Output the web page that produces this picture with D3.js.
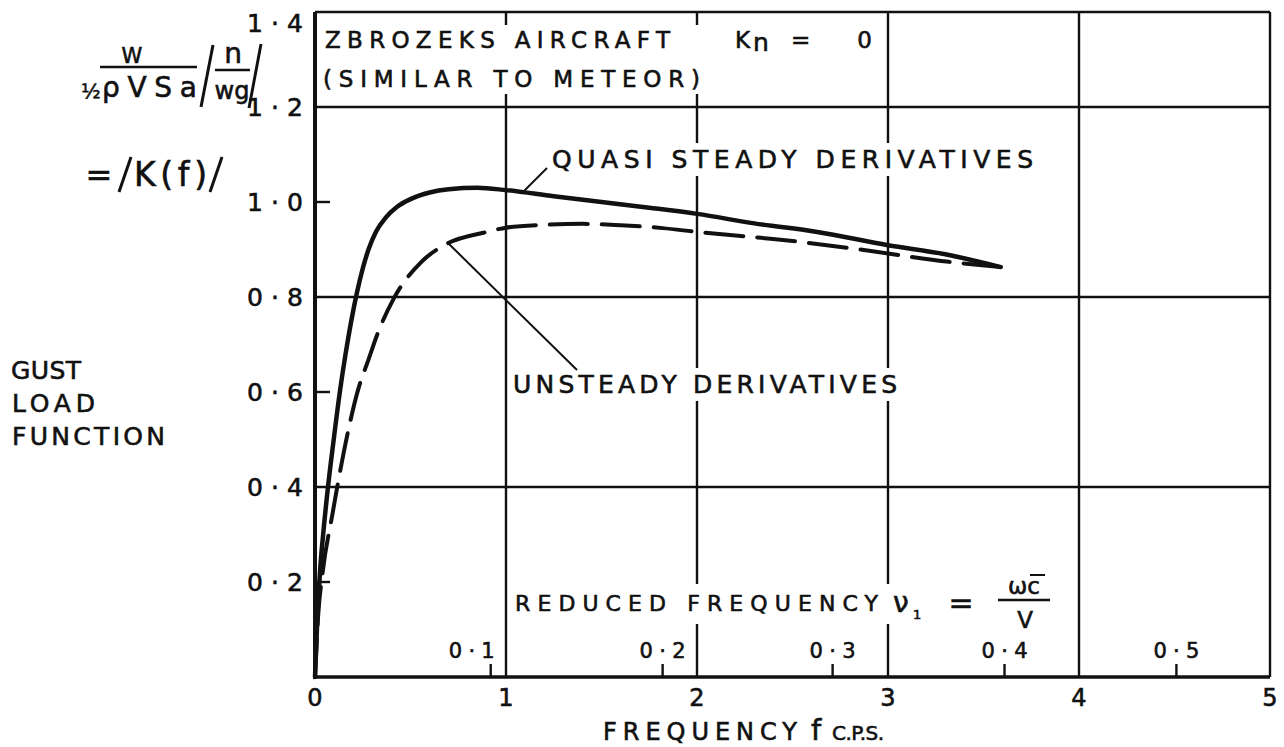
<!DOCTYPE html>
<html>
<head>
<meta charset="utf-8">
<script src="https://cdn.jsdelivr.net/npm/d3@7"></script>
<style>
  html, body { margin: 0; background: #fff; }
  svg text { font-family: "DejaVu Sans", sans-serif; fill: #111; stroke: #111; stroke-width: 0.6px; }
</style>
</head>
<body>
<svg id="chart"></svg>
<script>
// frequency f (c.p.s.) vs |K(f)|
const quasiFreq = [0, 0.01, 0.026, 0.045, 0.068, 0.098, 0.13, 0.16, 0.19, 0.22, 0.25, 0.28, 0.32, 0.37, 0.43, 0.5, 0.6, 0.7, 0.85, 1.0, 1.25, 1.5, 1.75, 2.0, 2.3, 2.63, 3.0, 3.3, 3.59]
const quasiK = [0, 0.1, 0.22, 0.31, 0.4, 0.5, 0.6, 0.68, 0.75, 0.81, 0.86, 0.9, 0.938, 0.967, 0.99, 1.006, 1.02, 1.027, 1.03, 1.025, 1.012, 1.0, 0.988, 0.975, 0.955, 0.937, 0.909, 0.89, 0.863]

const unsteadyFreq = [0, 0.015, 0.04, 0.09, 0.13, 0.18, 0.225, 0.28, 0.325, 0.41, 0.56, 0.69, 0.9, 1.0, 1.2, 1.4, 1.6, 1.82, 2.0, 2.45, 2.8, 3.32, 3.59]
const unsteadyK = [0, 0.12, 0.22, 0.34, 0.43, 0.53, 0.604, 0.668, 0.72, 0.795, 0.875, 0.912, 0.937, 0.946, 0.952, 0.954, 0.951, 0.945, 0.937, 0.92, 0.903, 0.874, 0.863]

const freqTicks = [0, 1, 2, 3, 4, 5]
const freqLabels = ['0', '1', '2', '3', '4', '5']
const kGrid = [0.4, 0.8, 1.2]
const kShortTicks = [0.2, 0.6, 1.0]
const kTicks = [0.2, 0.4, 0.6, 0.8, 1.0, 1.2, 1.4]
const kLabels = ['0·2', '0·4', '0·6', '0·8', '1·0', '1·2', '1·4']
// reduced frequency marks and the f at which they sit
const nuLabels = ['0·1', '0·2', '0·3', '0·4', '0·5']
const nuTickFreq = [0.92, 1.82, 2.71, 3.61, 4.51]

const W = 1284
const H = 747

const svg = d3.select('#chart').attr('width', W).attr('height', H)

const x = d3.scaleLinear().domain([0, 5]).range([315, 1270])
const y = d3.scaleLinear().domain([0, 1.4]).range([677, 12])

// grid
const grid = svg.append('g').attr('stroke', '#111').attr('stroke-width', 2.4)
grid.selectAll('.vg').data(freqTicks.slice(1, 5)).enter().append('line')
  .attr('x1', d => x(d)).attr('x2', d => x(d))
  .attr('y1', y(0)).attr('y2', y(1.4))
grid.selectAll('.hg').data(kGrid).enter().append('line')
  .attr('x1', x(0)).attr('x2', x(5))
  .attr('y1', d => y(d)).attr('y2', d => y(d))
// top and right border
grid.append('line').attr('x1', x(0)).attr('x2', x(5)).attr('y1', y(1.4)).attr('y2', y(1.4))
grid.append('line').attr('x1', x(5)).attr('x2', x(5)).attr('y1', y(1.4)).attr('y2', y(0))

// text that interrupts the grid gets a white box behind it
function boxed(build, padX = 4, padY = 2) {
  const g = svg.append('g')
  build(g)
  const b = g.node().getBBox()
  g.insert('rect', ':first-child')
    .attr('x', b.x - padX).attr('y', b.y - padY)
    .attr('width', b.width + 2 * padX).attr('height', b.height + 2 * padY)
    .attr('fill', '#fff').attr('stroke', 'none')
  return g
}

function txt(g, s, px, py, size, len, anchor = 'start') {
  const t = g.append('text').attr('x', px).attr('y', py)
    .attr('text-anchor', anchor).style('font-size', size + 'px').text(s)
  if (len) t.attr('textLength', len).attr('lengthAdjust', 'spacing')
  return t
}

boxed(g => {
  txt(g, 'ZBROZEKS AIRCRAFT', 325, 48, 23, 345)
  txt(g, '(SIMILAR TO METEOR)', 323, 87, 23, 377)
})
boxed(g => {
  txt(g, 'K', 735, 48, 23)
  txt(g, 'n', 753, 51, 25)
  txt(g, '= 0', 791, 48, 23, 81)
})
boxed(g => txt(g, 'QUASI STEADY DERIVATIVES', 552, 168, 25, 481))
boxed(g => txt(g, 'UNSTEADY DERIVATIVES', 513, 393, 25, 384))
boxed(g => {
  txt(g, 'REDUCED FREQUENCY', 515, 611, 22, 363)
  txt(g, 'ν', 893, 612, 28)
  txt(g, '1', 913, 619, 13)
})
txt(svg, '=', 961, 613, 30, null, 'middle')
txt(svg, 'ωc', 1024, 594, 23, null, 'middle')
svg.append('line').attr('x1', 1030).attr('x2', 1045).attr('y1', 575).attr('y2', 575)
  .attr('stroke', '#111').attr('stroke-width', 2)
svg.append('line').attr('x1', 998).attr('x2', 1050).attr('y1', 600).attr('y2', 600)
  .attr('stroke', '#111').attr('stroke-width', 2.5)
txt(svg, 'V', 1025, 628, 23, null, 'middle')

// axes
const axes = svg.append('g').attr('stroke', '#111')
axes.append('line').attr('x1', x(0)).attr('x2', x(0)).attr('y1', y(0) + 2).attr('y2', y(1.4))
  .attr('stroke-width', 4)
axes.append('line').attr('x1', x(0) - 2).attr('x2', x(5)).attr('y1', y(0)).attr('y2', y(0))
  .attr('stroke-width', 3.5)
axes.selectAll('.kt').data(kShortTicks).enter().append('line')
  .attr('x1', x(0)).attr('x2', x(0) + 15)
  .attr('y1', d => y(d)).attr('y2', d => y(d)).attr('stroke-width', 2.4)
axes.selectAll('.nt').data(nuTickFreq).enter().append('line')
  .attr('x1', d => x(d)).attr('x2', d => x(d))
  .attr('y1', y(0)).attr('y2', y(0) - 13).attr('stroke-width', 2.4)

svg.selectAll('.xl').data(freqTicks).enter().append('text')
  .attr('x', d => x(d)).attr('y', 706).attr('text-anchor', 'middle')
  .style('font-size', '24px').text((d, i) => freqLabels[i])

svg.selectAll('.yl').data(kTicks).enter().append('text')
  .attr('x', 303).attr('y', d => Math.max(y(d) + 9, 32)).attr('text-anchor', 'end')
  .attr('textLength', 56).attr('lengthAdjust', 'spacing')
  .style('font-size', '25px').text((d, i) => kLabels[i])

svg.selectAll('.nl').data(nuTickFreq).enter().append('text')
  .attr('x', (d, i) => x(d) + (i === 0 ? 4 : 0)).attr('y', 658)
  .attr('text-anchor', (d, i) => (i === 0 ? 'end' : 'middle'))
  .attr('textLength', 46).attr('lengthAdjust', 'spacing')
  .style('font-size', '21px').text((d, i) => nuLabels[i])

txt(svg, 'FREQUENCY', 603, 740, 24, 194)
txt(svg, 'f', 816, 740, 29, null, 'middle')
txt(svg, 'C.P.S.', 832, 740, 20, 52)

// y title
txt(svg, 'GUST', 11, 379, 25, 70)
txt(svg, 'LOAD', 12, 412, 25, 83)
txt(svg, 'FUNCTION', 12, 445, 25, 153)

const yt = svg.append('g')
const bar = (x1, y1, x2, y2, w = 2.5) =>
  yt.append('line').attr('x1', x1).attr('y1', y1).attr('x2', x2).attr('y2', y2)
    .attr('stroke', '#111').attr('stroke-width', w)
txt(yt, 'W', 132, 63, 21, null, 'middle')
bar(100, 67, 197, 67)
txt(yt, '½', 91, 98, 20, null, 'middle')
txt(yt, 'ρVSa', 102, 97, 28, 95)
bar(201, 107, 213, 45, 3)
txt(yt, 'n', 233, 63, 28, null, 'middle')
bar(215, 70, 250, 70)
txt(yt, 'wg', 232, 99, 24, null, 'middle')
bar(249, 108, 261, 44, 3)
txt(yt, '=', 99, 186, 32, null, 'middle')
bar(119, 192, 131, 157, 3)
txt(yt, 'K(f)', 134, 186, 33, 73)
bar(210, 192, 222, 157, 3)

// curves
const line = d3.line().x(d => x(d[0])).y(d => y(d[1])).curve(d3.curveMonotoneX)
const quasi = quasiFreq.map((f, i) => [f, quasiK[i]])
const unsteady = unsteadyFreq.map((f, i) => [f, unsteadyK[i]])

svg.append('path').datum(unsteady).attr('d', line)
  .attr('fill', 'none').attr('stroke', '#111').attr('stroke-width', 4)
  .attr('stroke-dasharray', '38,14').attr('stroke-linecap', 'round')
svg.append('path').datum(quasi).attr('d', line)
  .attr('fill', 'none').attr('stroke', '#111').attr('stroke-width', 4.5)
  .attr('stroke-linecap', 'round')

// leader lines
const leaders = svg.append('g').attr('stroke', '#111').attr('stroke-width', 2)
leaders.append('line').attr('x1', 547).attr('y1', 168).attr('x2', 523).attr('y2', 192)
leaders.append('line').attr('x1', 448).attr('y1', 243).attr('x2', 577).attr('y2', 370)
</script>
</body>
</html>
